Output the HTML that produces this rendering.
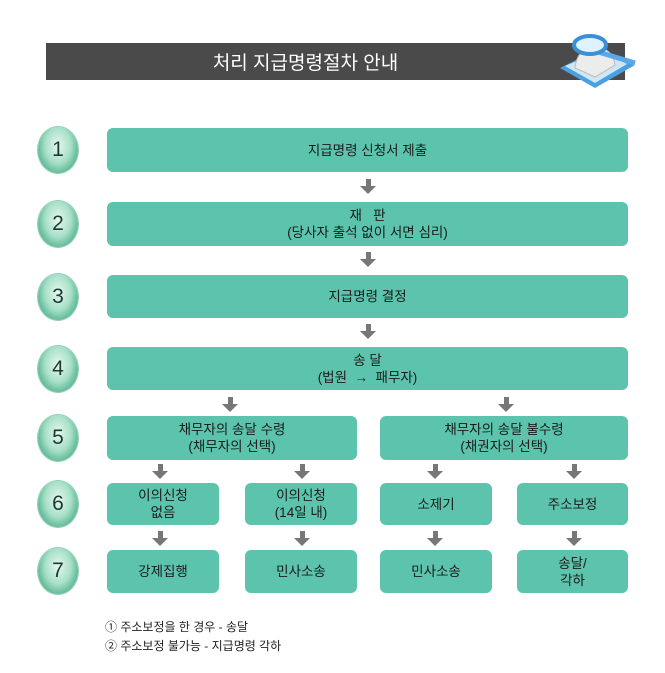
<!DOCTYPE html>
<html><head><meta charset="utf-8"><style>
body{margin:0;width:665px;height:673px;background:#fff;position:relative;font-family:"Liberation Sans","Noto Sans CJK KR",sans-serif;overflow:hidden}
.b{position:absolute;background:#5cc4ac;border-radius:6px;display:flex;align-items:center;justify-content:center;text-align:center;color:#1a1a1a;font-size:13.5px;line-height:17px}
.c{position:absolute;left:38px;width:40px;height:46px;border-radius:50%;background:radial-gradient(ellipse at 50% 40%,#e6f7ef 0%,#a8e0c8 45%,#3fa880 85%,#2b8d68 100%);display:flex;align-items:center;justify-content:center;font-size:21px;color:#1c3a30;box-shadow:0 0 0 1px #8fd0b5}
.a{position:absolute;width:0;height:0}
.a::before{content:"";position:absolute;left:-2.5px;top:0;width:5px;height:8px;background:#777}
.a::after{content:"";position:absolute;left:-8px;top:7px;border-left:8px solid transparent;border-right:8px solid transparent;border-top:8px solid #777}
.f{position:absolute;left:105px;font-size:12px;color:#222}
</style></head><body>
<div style="position:absolute;left:46px;top:43px;width:579px;height:37px;background:#4a4a4a;color:#fff;font-size:19px;display:flex;align-items:center;justify-content:center;padding-right:60px;box-sizing:border-box">처리 지급명령절차 안내</div>
<svg style="position:absolute;left:555px;top:33px" width="90" height="60">
<polygon points="5,35 40,55 80,32 45,15" fill="#4aa0e0"/>
<polygon points="10,33 40,50 72,31 45,18" fill="#cfe6f5"/>
<path d="M20,35 Q22,15 40,14 Q58,15 60,32 L40,44 Z" fill="#ececec" stroke="#bbb"/>
<line x1="40" y1="18" x2="80" y2="30" stroke="#5aa8e8" stroke-width="5"/>
<ellipse cx="35" cy="12" rx="16" ry="9" fill="#dff2ff" stroke="#3a8fd8" stroke-width="4"/>
</svg>

<div class="c" style="top:127px">1</div>
<div class="c" style="top:201px">2</div>
<div class="c" style="top:274px">3</div>
<div class="c" style="top:346px">4</div>
<div class="c" style="top:415px">5</div>
<div class="c" style="top:481px">6</div>
<div class="c" style="top:548px">7</div>

<div class="b" style="left:107px;top:128px;width:521px;height:44px">지급명령 신청서 제출</div>
<div class="b" style="left:107px;top:202px;width:521px;height:44px">재&nbsp;&nbsp;&nbsp;판<br>(당사자 출석 없이 서면 심리)</div>
<div class="b" style="left:107px;top:275px;width:521px;height:43px">지급명령 결정</div>
<div class="b" style="left:107px;top:347px;width:521px;height:43px">송 달<br>(법원 &nbsp;→ &nbsp;패무자)</div>
<div class="b" style="left:107px;top:416px;width:250px;height:44px">채무자의 송달 수령<br>(채무자의 선택)</div>
<div class="b" style="left:380px;top:416px;width:248px;height:44px">채무자의 송달 불수령<br>(채권자의 선택)</div>
<div class="b" style="left:107px;top:483px;width:112px;height:42px">이의신청<br>없음</div>
<div class="b" style="left:245px;top:483px;width:112px;height:42px">이의신청<br>(14일 내)</div>
<div class="b" style="left:380px;top:483px;width:112px;height:42px">소제기</div>
<div class="b" style="left:517px;top:483px;width:111px;height:42px">주소보정</div>
<div class="b" style="left:107px;top:550px;width:112px;height:43px">강제집행</div>
<div class="b" style="left:245px;top:550px;width:112px;height:43px">민사소송</div>
<div class="b" style="left:380px;top:550px;width:112px;height:43px">민사소송</div>
<div class="b" style="left:517px;top:550px;width:111px;height:43px">송달/<br>각하</div>

<div class="a" style="left:368px;top:179px"></div>
<div class="a" style="left:368px;top:252px"></div>
<div class="a" style="left:368px;top:324px"></div>
<div class="a" style="left:230px;top:397px"></div>
<div class="a" style="left:506px;top:397px"></div>
<div class="a" style="left:160px;top:464px"></div>
<div class="a" style="left:302px;top:464px"></div>
<div class="a" style="left:435px;top:464px"></div>
<div class="a" style="left:574px;top:464px"></div>
<div class="a" style="left:160px;top:531px"></div>
<div class="a" style="left:302px;top:531px"></div>
<div class="a" style="left:435px;top:531px"></div>
<div class="a" style="left:574px;top:531px"></div>

<div class="f" style="top:618px">① 주소보정을 한 경우 - 송달</div>
<div class="f" style="top:637px">② 주소보정 불가능 - 지급명령 각하</div>
</body></html>
